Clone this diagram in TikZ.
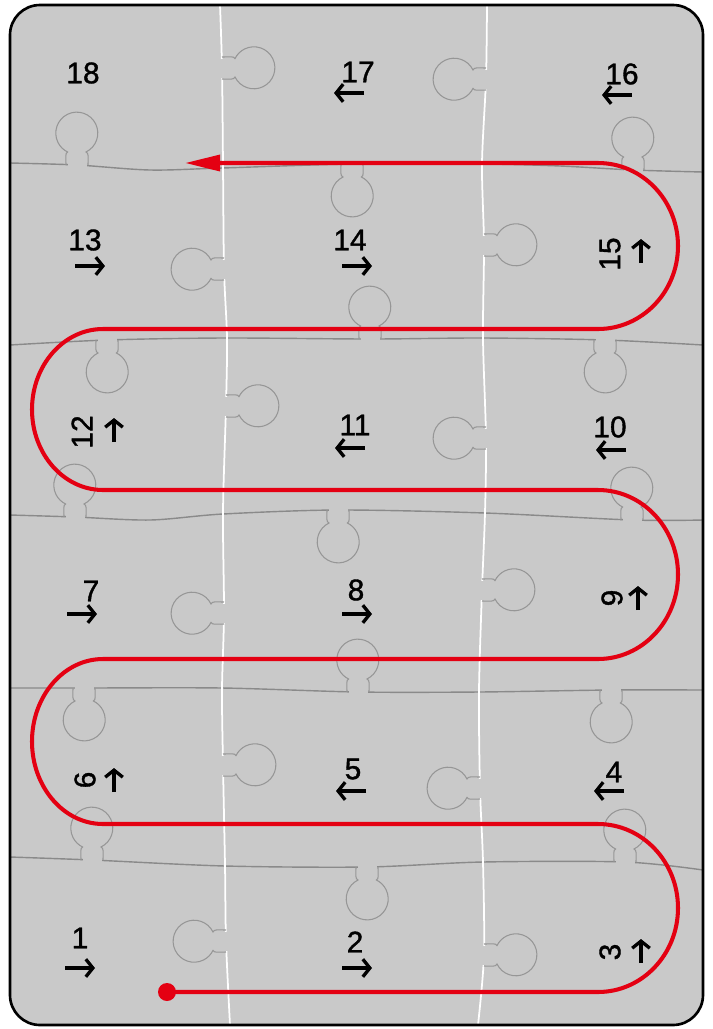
\documentclass[tikz,border=0pt]{standalone}
\usepackage{fontspec}
\usetikzlibrary{arrows.meta}
\newfontfamily\puzfont[FakeBold=1.2]{Liberation Sans}
\definecolor{puzzlebg}{RGB}{201,201,201}
\definecolor{seam}{RGB}{138,138,138}
\definecolor{knobgray}{RGB}{150,150,150}
\definecolor{pathred}{RGB}{228,0,18}
\tikzset{
  seamv/.style={white, line width=1pt},
  seamh/.style={seam, line width=0.8pt},
  knobline/.style={knobgray, line width=0.6pt},
  num/.style={font=\puzfont\fontsize{17}{17}\selectfont, inner sep=0pt},
  pointer/.style={line width=1.9pt, -{Straight Barb[length=4pt,width=10pt]}},
  tour/.style={pathred, line width=2.3pt},
}
% one puzzle knob: base point on the seam, direction
\newcommand{\knob}[3]{%
  \begin{scope}[shift={(#1,#2)}, rotate=#3]
    \fill[puzzlebg] (-3,-9.5) rectangle (3,9.5);
    \draw[knobline] (0,11) .. controls (8,11) and (12,12) .. (13,9)
      arc[start angle=154, end angle=-154, radius=21]
      .. controls (12,-12) and (8,-11) .. (0,-11);
  \end{scope}}
% small direction arrow under/next to a number
\newcommand{\pointer}[4]{%
  \draw[pointer, shift={(#1,#2)}, rotate=#3] (-#4,0) -- (#4,0);}

\begin{document}
\begin{tikzpicture}[x=0.02cm, y=-0.02cm]
\useasboundingbox (0,0) rectangle (713,1029);
\fill[puzzlebg, rounded corners=0.6cm] (10,5) rectangle (703,1025);

% seams
\draw[seamh] plot[smooth] coordinates {(10,163) (77,165) (150,170) (222,168) (352,164) (482,164) (560,166) (633,170) (703,172)};
\draw[seamh] plot[smooth] coordinates {(10,345) (107,340) (224,338) (370,339) (483,338) (605,340) (703,345)};
\draw[seamh] plot[smooth] coordinates {(10,515) (75,517) (150,520) (223,514) (338,510) (485,513) (632,520) (703,520)};
\draw[seamh] plot[smooth] coordinates {(10,688) (84,688) (222,688) (358,692) (479,692) (611,690) (703,690)};
\draw[seamh] plot[smooth] coordinates {(10,857) (92,860) (225,866) (367,867) (483,862) (625,862) (703,870)};
\draw[seamv] plot[smooth] coordinates {(220,5) (222,68) (223,165) (224,269) (227,338) (226,406) (223,512) (224,613) (222,690) (223,765) (225,865) (226,941) (230,1025)};
\draw[seamv] plot[smooth] coordinates {(487,5) (486,79) (482,164) (484,245) (483,338) (486,438) (485,513) (482,590) (479,692) (480,788) (483,862) (484,955) (478,1025)};

\foreach \kx/\ky/\kr in {222/68/0, 224/269/180, 226/406/0, 224/613/180, 223/765/0, 226/941/180,
  486/79/180, 484/245/0, 486/438/180, 482/590/0, 480/788/180, 484/955/0,
  77/165/90, 352/164/-90, 633/170/90, 107/340/-90, 370/339/90, 605/340/-90,
  75/517/90, 338/510/-90, 632/520/90, 84/688/-90, 358/692/90, 611/690/-90,
  92/860/90, 367/867/-90, 625/862/90}
  \knob{\kx}{\ky}{\kr};

\draw[line width=1.5pt, rounded corners=0.6cm] (10,5) rectangle (703,1025);

% numbers
\node[num] (n18) at (83,73) {18};
\node[num] (n17) at (358,72) {17};
\node[num] (n16) at (622,74) {16};
\node[num] (n13) at (85,240) {13};
\node[num] (n14) at (350,240) {14};
\node[num, rotate=90] (n15) at (610,254) {15};
\node[num, rotate=90] (n12) at (82,432) {12};
\node[num] (n11) at (355,425) {11};
\node[num] (n10) at (610,427) {10};
\node[num] (n7) at (91,591) {7};
\node[num] (n8) at (356,590) {8};
\node[num, rotate=90] (n9) at (612,598) {9};
\node[num, rotate=90] (n6) at (85,780) {6};
\node[num] (n5) at (353,769) {5};
\node[num] (n4) at (614,772) {4};
\node[num] (n1) at (80,938) {1};
\node[num] (n2) at (355,942) {2};
\node[num, rotate=90] (n3) at (610,952) {3};

% arrows: x, y, direction, half length
\pointer{349}{93}{180}{15}
\pointer{617}{95}{180}{15}
\pointer{90}{266}{0}{15}
\pointer{357}{266}{0}{15}
\pointer{641}{251}{90}{12}
\pointer{114}{430}{90}{12}
\pointer{350}{448}{180}{15}
\pointer{611}{450}{180}{15}
\pointer{82}{614}{0}{15}
\pointer{357}{614}{0}{15}
\pointer{638}{598}{90}{12}
\pointer{114}{780}{90}{12}
\pointer{351}{791}{180}{15}
\pointer{609}{791}{180}{15}
\pointer{80}{968}{0}{15}
\pointer{357}{968}{0}{15}
\pointer{641}{951}{90}{12}

% the red tour
\coordinate (start) at (167,992);
\coordinate (finish) at (185,163);
\draw[tour, -{Triangle[length=20pt,width=9pt]}] (start) -- (598,992)
  arc[start angle=90, end angle=-90, x radius=80, y radius=84] -- (103,824)
  arc[start angle=90, end angle=270, x radius=71, y radius=82.5] -- (598,659)
  arc[start angle=90, end angle=-90, x radius=80, y radius=84.5] -- (103,490)
  arc[start angle=90, end angle=270, x radius=71, y radius=80.5] -- (598,329)
  arc[start angle=90, end angle=-90, x radius=80, y radius=83] -- (finish);
\fill[pathred] (start) circle (9);
\end{tikzpicture}
\end{document}
